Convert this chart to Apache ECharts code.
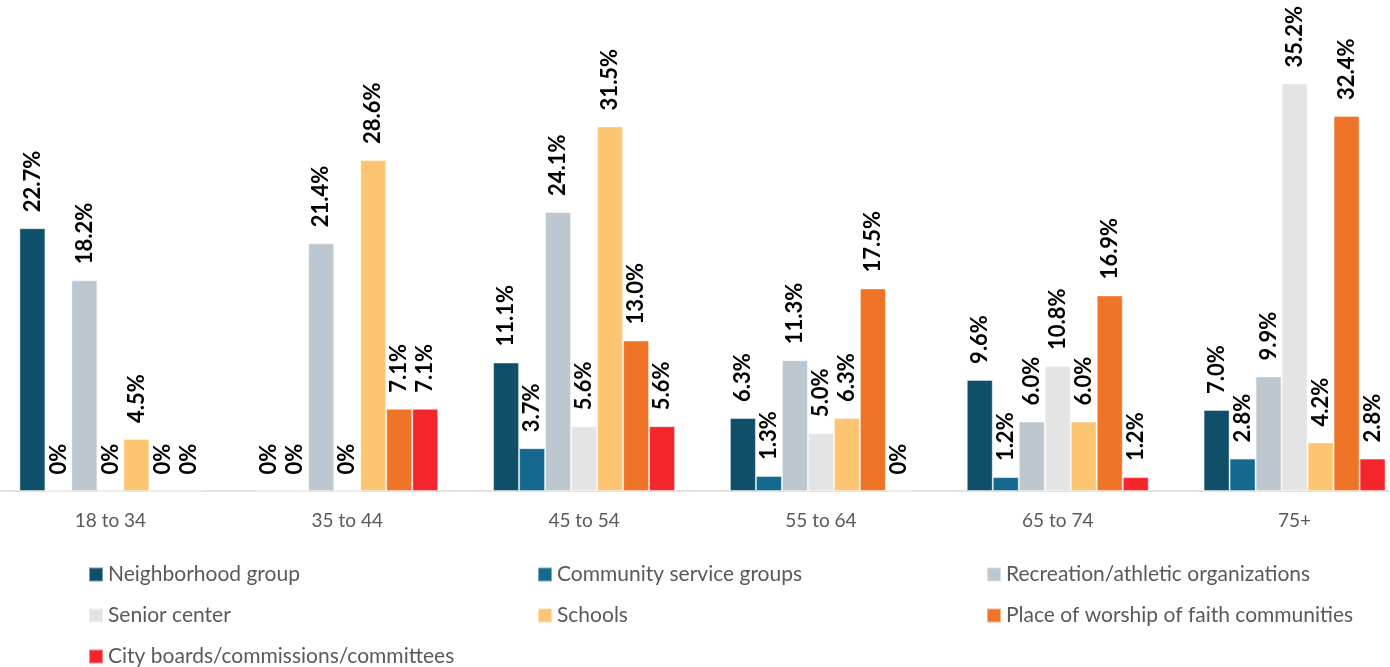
<!DOCTYPE html>
<html>
<head>
<meta charset="utf-8">
<style>
  html, body { margin: 0; padding: 0; background: #ffffff; }
  #chart { width: 1390px; height: 667px; }
</style>
<script src="https://cdn.jsdelivr.net/npm/echarts@6/dist/echarts.min.js"></script>
</head>
<body>
<div id="chart"></div>
<script>
// Age groups along the x axis
const ageGroups = ['18 to 34', '35 to 44', '45 to 54', '55 to 64', '65 to 74', '75+'];

// Share of respondents (%) per organization type, one value per age group
const neighborhoodGroup = [22.7, 0, 11.1, 6.3, 9.6, 7.0];
const communityService = [0, 0, 3.7, 1.3, 1.2, 2.8];
const recreationAthletic = [18.2, 21.4, 24.1, 11.3, 6.0, 9.9];
const seniorCenter = [0, 0, 5.6, 5.0, 10.8, 35.2];
const schools = [4.5, 28.6, 31.5, 6.3, 6.0, 4.2];
const placeOfWorship = [0, 7.1, 13.0, 17.5, 16.9, 32.4];
const cityBoards = [0, 7.1, 5.6, 0, 1.2, 2.8];

const seriesNames = [
  'Neighborhood group',
  'Community service groups',
  'Recreation/athletic organizations',
  'Senior center',
  'Schools',
  'Place of worship of faith communities',
  'City boards/commissions/committees'
];
const seriesValues = [
  neighborhoodGroup, communityService, recreationAthletic,
  seniorCenter, schools, placeOfWorship, cityBoards
];
const seriesColors = ['#0f4f6a', '#15698f', '#bdc7d0', '#e4e4e4', '#fdc572', '#f07428', '#f5262b'];

const fontFamily = 'Lato, "Open Sans", sans-serif';

const chart = echarts.init(document.getElementById('chart'), null, { renderer: 'canvas' });

const series = seriesNames.map((name, i) => ({
  name: name,
  type: 'bar',
  data: seriesValues[i],
  barWidth: 26,
  barGap: '0%',
  itemStyle: {
    color: seriesColors[i],
    borderColor: 'rgba(255,255,255,0.45)',
    borderWidth: 1
  },
  label: {
    show: true,
    position: 'top',
    rotate: 90,
    align: 'left',
    verticalAlign: 'middle',
    distance: 16,
    color: '#000000',
    fontFamily: fontFamily,
    fontWeight: 'bold',
    fontSize: 22,
    formatter: p => (p.value === 0 ? '0%' : p.value.toFixed(1) + '%')
  }
}));

// Three legend columns, each stacked vertically
const legendBase = {
  orient: 'vertical',
  top: 564,
  height: 103,
  padding: 0,
  itemWidth: 14,
  itemHeight: 14,
  itemGap: 20,
  icon: 'rect',
  textStyle: { color: '#595959', fontSize: 21, fontFamily: fontFamily, lineHeight: 20 }
};

chart.setOption({
  backgroundColor: '#ffffff',
  animation: false,
  legend: [
    Object.assign({}, legendBase, { left: 88, data: [seriesNames[0], seriesNames[3], seriesNames[6]] }),
    Object.assign({}, legendBase, { left: 537, data: [seriesNames[1], seriesNames[4]] }),
    Object.assign({}, legendBase, { left: 986, data: [seriesNames[2], seriesNames[5]] })
  ],
  grid: {
    left: -8,
    right: -23,
    top: 28,
    bottom: 176,
    containLabel: false,
    outerBoundsMode: 'none'
  },
  xAxis: {
    type: 'category',
    data: ageGroups,
    axisLine: { show: true, lineStyle: { color: '#d9d9d9', width: 1.5 } },
    axisTick: { show: false },
    axisLabel: { color: '#595959', fontSize: 19, fontFamily: fontFamily, margin: 20 }
  },
  yAxis: {
    type: 'value',
    min: 0,
    max: 40,
    show: false,
    splitLine: { show: false }
  },
  series: series
});
</script>
</body>
</html>
